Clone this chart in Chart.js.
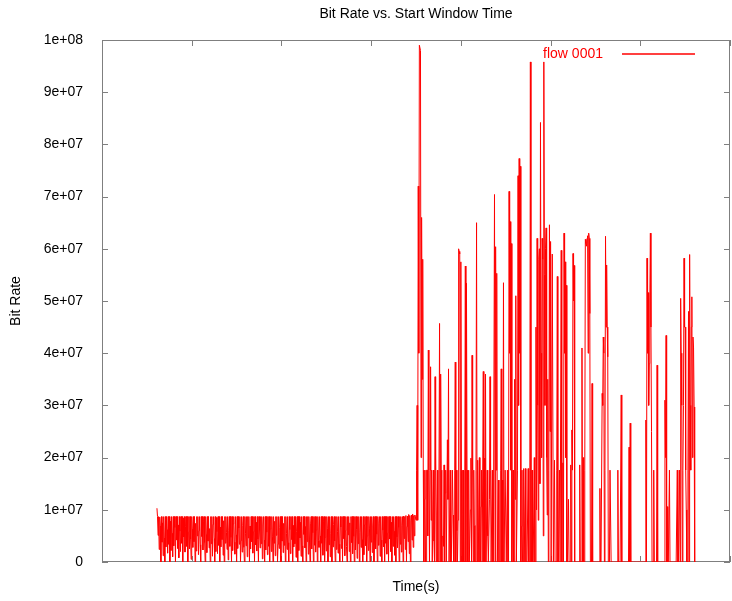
<!DOCTYPE html>
<html>
<head>
<meta charset="UTF-8">
<title>Bit Rate vs. Start Window Time</title>
<script src="https://cdn.jsdelivr.net/npm/chart.js@4.4.1/dist/chart.umd.min.js"></script>
<style>
    body{ margin:0; background:#ffffff; }
    canvas{ display:block; }
</style>
</head>
<body>
<canvas id="id_chart" width="732" height="601"></canvas>
<script>
// 値の単位は 1e6 bit/s。サンプルは 0.0625 秒刻み。
var SAMPLE_STEP = 0.0625;
var QUIET_START = 6.125;   // 前半（低レート）の開始時刻
var BURST_START = 35.0;    // 後半（バースト）の開始時刻

var quietRates = [
    10.3, 8.7, 5.1, 8.7, 2.4, 8.6, 6.9, 0, 8.7, 3.8, 7.5, 1.2, 8.7, 4.6, 0, 8.7, 2.9, 8.7, 6.2, 1.7,
    8.7, 3.4, 8.7, 0, 7.8, 2.2, 8.7, 5.5, 1.0, 8.7, 3.1, 8.7, 6.6, 0, 8.7, 4.2, 8.7, 2.6, 7.1, 0.8,
    8.7, 5.9, 2.0, 8.7, 3.6, 8.7, 0, 8.4, 4.8, 8.7, 1.9, 6.8, 8.7, 3.0, 8.7, 0, 5.7, 8.7, 2.5, 8.7,
    4.4, 0.5, 8.7, 6.3, 2.8, 8.7, 3.9, 8.7, 0, 7.4, 2.1, 8.7, 5.0, 8.7, 1.4, 6.0, 8.7, 3.3, 0, 8.7,
    4.9, 8.7, 2.3, 7.7, 8.7, 3.7, 0, 8.7, 5.3, 1.8, 8.7, 4.0, 8.7, 2.7, 6.4, 0, 8.7, 3.5, 8.7, 1.1,
    7.2, 8.7, 4.5, 0, 8.7, 2.0, 8.5, 5.8, 1.6, 8.7, 3.2, 8.7, 0, 6.7, 2.9, 8.7, 4.3, 8.7, 1.3, 7.9,
    0, 8.7, 3.6, 8.7, 5.6, 2.4, 8.7, 0.4, 6.1, 8.7, 3.0, 8.7, 4.7, 0, 8.7, 2.2, 7.3, 8.7, 3.8, 1.5,
    8.7, 5.2, 0, 8.7, 2.6, 8.7, 6.5, 3.4, 8.7, 0, 4.1, 8.7, 1.9, 7.0, 8.7, 2.8, 0, 8.7, 5.4, 3.1,
    8.7, 1.0, 8.7, 4.6, 8.7, 0, 6.9, 2.5, 8.7, 3.9, 8.7, 1.7, 5.8, 8.7, 0, 8.7, 3.3, 7.6, 2.1, 8.7,
    4.4, 0, 8.7, 6.0, 2.7, 8.7, 3.5, 8.7, 0.6, 7.1, 8.7, 4.2, 0, 8.7, 2.3, 8.7, 5.7, 1.4, 8.7, 3.0,
    8.7, 0, 6.3, 8.7, 2.0, 8.7, 4.8, 0, 8.7, 3.6, 7.8, 1.2, 8.7, 5.1, 8.7, 0, 3.4, 8.7, 2.6, 6.6,
    8.7, 0, 8.7, 4.0, 8.7, 1.8, 7.4, 3.2, 8.7, 0, 8.7, 5.5, 2.4, 8.7, 3.7, 0, 8.7, 6.2, 1.6, 8.7,
    4.3, 8.7, 0, 7.0, 2.9, 8.7, 3.5, 8.7, 0.9, 5.9, 8.7, 0, 8.7, 2.2, 8.7, 4.6, 7.6, 1.1, 8.7, 3.1,
    0, 8.7, 5.3, 8.7, 2.7, 6.8, 0, 8.7, 3.9, 8.7, 1.5, 8.7, 4.4, 0, 7.3, 8.7, 2.5, 8.7, 5.6, 0,
    8.7, 3.2, 8.7, 1.9, 6.1, 8.7, 0, 8.7, 4.1, 2.8, 8.7, 5.0, 0, 8.7, 3.6, 8.7, 1.3, 7.7, 8.7, 0,
    4.7, 8.7, 2.1, 8.7, 6.4, 0, 8.7, 3.3, 8.7, 1.0, 5.4, 8.7, 0, 8.7, 2.9, 7.2, 8.7, 4.0, 0, 8.7,
    2.4, 8.7, 5.8, 1.7, 8.7, 3.4, 0, 8.7, 6.7, 2.6, 8.7, 0, 8.7, 4.5, 8.7, 1.2, 6.0, 8.7, 3.0, 0,
    8.7, 5.2, 8.7, 2.0, 7.5, 0, 8.7, 3.7, 8.7, 1.6, 8.7, 4.9, 0, 8.7, 2.3, 8.7, 6.3, 0.7, 8.7, 3.5,
    8.7, 0, 5.7, 8.7, 2.8, 8.7, 4.3, 0, 8.7, 1.4, 7.1, 8.7, 3.1, 8.7, 0, 5.0, 8.7, 2.2, 8.7, 6.5,
    0, 8.7, 3.8, 8.7, 1.8, 6.9, 8.7, 0, 4.6, 8.7, 2.5, 8.7, 5.3, 0, 8.7, 3.2, 7.4, 8.7, 1.1, 8.7,
    4.2, 0, 8.7, 6.1, 2.9, 8.7, 0, 8.7, 3.6, 8.7, 1.5, 5.5, 8.7, 0, 8.7, 4.4, 8.7, 2.0, 7.6, 0,
    8.7, 3.0, 8.7, 5.9, 1.3, 8.7, 0, 8.7, 4.8, 2.7, 8.7, 6.6, 0, 8.7, 3.4, 8.7, 1.9, 7.0, 8.7, 0,
    8.8, 4.5, 8.7, 2.4, 8.9, 0, 6.8, 8.8, 3.9, 9.1, 1.6, 8.9, 0, 7.9, 9.0, 4.2, 9.2, 2.8, 8.9, 5.0,
    9.0
];

var burstRates = [
    8, 17.6, 30, 8, 72, 40, 99, 99, 98, 20, 66, 35, 58, 17.6, 0, 12, 17.6, 0, 0, 17.6,
    17.6, 5, 40.6, 17.6, 0, 17.6, 37.4, 8, 17.6, 0, 0, 17.6, 4, 0, 35.5, 17.6, 0, 9, 17.6, 0,
    0, 17.6, 45.7, 0, 36, 17.6, 0, 0, 5, 3, 18.6, 0, 13.2, 17.6, 0, 0, 23.4, 12, 37, 0,
    0, 17.6, 0, 0, 0, 17.6, 9, 0, 0, 17.6, 38.3, 0, 17.6, 6, 0, 8, 60, 59.5, 59, 0,
    57.5, 17.6, 0, 0, 17.6, 0, 0, 17.6, 56.7, 0, 53.4, 17.6, 0, 0, 17.6, 0, 0, 10, 19.9, 0,
    39.6, 17.6, 0, 17.6, 7, 0, 0, 17.6, 65, 0, 19.5, 0, 0, 20, 0, 0, 10.6, 17.6, 0, 0,
    36.5, 0, 19.9, 0, 36, 0, 0, 17.6, 5, 0, 0, 12, 35.5, 17.6, 0, 0, 17.6, 0, 0, 0,
    70.4, 0, 60.4, 17.6, 55.3, 0, 0, 15.7, 0, 0, 0, 17.6, 37, 0, 15.7, 0, 53.5, 0, 0, 17.6,
    17.6, 0, 0, 17.6, 0, 0, 71, 40, 65.2, 17.6, 61, 0, 9, 17.6, 0, 0, 35, 12, 51, 0,
    0, 17.6, 74, 30, 77.3, 40, 75.8, 0, 6.8, 17.6, 0, 0, 17.9, 0, 0, 17.9, 0, 0, 0, 0,
    17.9, 0, 0, 17.6, 95.8, 0, 0, 17.6, 0, 0, 0, 20, 0, 0, 45, 10, 62, 30, 8, 58,
    60, 15, 84.2, 40, 20, 62, 58, 5, 95.8, 55, 30, 60, 64, 20, 9, 35, 0, 17.6, 64.6, 25,
    61.4, 0, 0, 59, 59, 0, 0, 19.5, 0, 0, 0, 17.6, 54.7, 0, 0, 0, 17.6, 0, 0, 59.7,
    0, 0, 19, 0, 63, 40, 57.5, 20, 53, 0, 0, 0, 12, 0, 0, 0, 18.6, 0, 25.3, 17.6,
    59.1, 50, 56.8, 0, 0, 0, 0, 0, 0, 0, 0, 0, 18.6, 0, 0, 0, 41, 0, 20, 0,
    0, 17.6, 61.8, 61, 60.5, 62, 62.5, 40, 63, 62, 47.6, 0, 0, 0, 34.2, 0, 0, 0, 0, 0,
    0, 0, 0, 0, 0, 0, 0, 0, 14.1, 0, 0, 0, 32.3, 30, 43.1, 40, 0, 17.6, 62.4, 45,
    56.9, 45, 39.3, 0, 0, 0, 17.6, 17.6, 0, 0, 0, 0, 0, 0, 0, 0, 0, 0, 0, 0,
    17.6, 0, 0, 0, 0, 0, 32, 0, 0, 0, 0, 0, 0, 0, 0, 0, 0, 0, 0, 0,
    22, 0, 26.6, 0, 0, 0, 0, 0, 0, 0, 0, 0, 0, 0, 0, 0, 0, 0, 0, 0,
    0, 0, 0, 0, 0, 0, 0, 0, 0, 0, 27.2, 0, 58.2, 40, 51.6, 30, 38, 50, 63, 45,
    25, 0, 0, 0, 17.6, 0, 0, 0, 0, 0, 37.7, 0, 0, 0, 0, 0, 0, 0, 0, 0,
    0, 0, 0, 0, 31, 20, 43.4, 0, 10.6, 0, 0, 0, 17.6, 0, 0, 0, 0, 0, 0, 0,
    0, 0, 0, 0, 0, 0, 17.6, 0, 0, 0, 17.6, 0, 50.5, 40, 30, 0, 17.6, 30, 58.2, 45,
    45, 17.6, 10, 0, 0, 17.6, 48, 0, 58.9, 30, 17.6, 45, 50.8, 20, 43.1, 41, 29.7, 0, 0, 0
];

var yTickLabels = ['0', '1e+07', '2e+07', '3e+07', '4e+07', '5e+07',
                   '6e+07', '7e+07', '8e+07', '9e+07', '1e+08'];
var seriesLabel = 'flow 0001';

var _toPoints = function( start, array ){
    var i, list = [];
    for( i=0; i<array.length; i++ ){
        list.push({ x : start + i*SAMPLE_STEP, y : array[i] });
    }
    return list;
};
var points = _toPoints( QUIET_START, quietRates ).concat( _toPoints( BURST_START, burstRates ) );

var FONT = "'Liberation Sans', Arial, sans-serif";
var FRAME_COLOR = '#7f7f7f';

// gnuplot風の枠と内向きの目盛り
var framePlugin = {
    id : 'frame',
    beforeDatasetsDraw : function( chart ){
        var ctx = chart.ctx, a = chart.chartArea;
        var sx = chart.scales.x, sy = chart.scales.y;
        ctx.save();
        ctx.strokeStyle = FRAME_COLOR;
        ctx.lineWidth = 1;
        ctx.beginPath();
        sy.ticks.forEach(function(t){
            var py = Math.round( sy.getPixelForValue(t.value) ) + 0.5;
            ctx.moveTo( a.left, py );  ctx.lineTo( a.left + 6, py );
            ctx.moveTo( a.right, py ); ctx.lineTo( a.right - 6, py );
        });
        sx.ticks.forEach(function(t){
            var px = Math.round( sx.getPixelForValue(t.value) ) + 0.5;
            ctx.moveTo( px, a.top );    ctx.lineTo( px, a.top + 6 );
            ctx.moveTo( px, a.bottom ); ctx.lineTo( px, a.bottom - 6 );
        });
        ctx.stroke();
        ctx.strokeRect( a.left + 0.5, a.top + 0.5, a.width - 1, a.height - 1 );
        ctx.restore();
    },
    afterDatasetsDraw : function( chart ){
        // 凡例（右上、テキスト＋線）
        var ctx = chart.ctx, a = chart.chartArea;
        var ds = chart.data.datasets[0];
        var ky = a.top + 14;
        ctx.save();
        ctx.font = '14px ' + FONT;
        ctx.fillStyle = ds.borderColor;
        ctx.textAlign = 'right';
        ctx.textBaseline = 'middle';
        ctx.fillText( ds.label, a.right - 127, ky );
        ctx.strokeStyle = ds.borderColor;
        ctx.lineWidth = 1.5;
        ctx.beginPath();
        ctx.moveTo( a.right - 108, ky );
        ctx.lineTo( a.right - 35, ky );
        ctx.stroke();
        ctx.restore();
    }
};

var ctx = document.getElementById('id_chart').getContext('2d');
var myChart = new Chart(ctx, {
    type : 'line',
    data : {
        datasets : [
            {
                label : seriesLabel,
                data : points,
                borderColor : '#ff0000',
                borderWidth : 1,
                pointRadius : 0,
                tension : 0,
                fill : false
            }
        ]
    },
    options : {
        responsive : false,
        animation : false,
        devicePixelRatio : 1,
        layout : { padding : { left : 0, right : 2, top : 0, bottom : 0 } },
        plugins : {
            legend : { display : false },
            tooltip : { enabled : false },
            title : {
                display : true,
                text : 'Bit Rate vs. Start Window Time',
                color : '#000000',
                fullSize : false,
                font : { family : FONT, size : 14, weight : 'normal' },
                padding : { top : 5.6, bottom : 17.6 }
            }
        },
        scales : {
            x : {
                type : 'linear',
                min : 0,
                max : 70,
                ticks : { display : false, stepSize : 10 },
                grid : { display : false, drawTicks : false },
                border : { display : false },
                title : {
                    display : true,
                    text : 'Time(s)',
                    color : '#000000',
                    font : { family : FONT, size : 14 },
                    padding : { top : 0, bottom : 5.6 }
                },
                afterFit : function( s ){ s.height = 39; }
            },
            y : {
                type : 'linear',
                min : 0,
                max : 100,
                ticks : {
                    stepSize : 10,
                    padding : 19,
                    color : '#000000',
                    font : { family : FONT, size : 14 },
                    callback : function( value, index ){ return yTickLabels[index]; }
                },
                grid : { display : false, drawTicks : false },
                border : { display : false },
                title : {
                    display : true,
                    text : 'Bit Rate',
                    color : '#000000',
                    font : { family : FONT, size : 14 },
                    padding : { top : 7.6, bottom : 0 }
                },
                afterFit : function( s ){ s.width = 102; }
            }
        }
    },
    plugins : [ framePlugin ]
});
</script>
</body>
</html>
